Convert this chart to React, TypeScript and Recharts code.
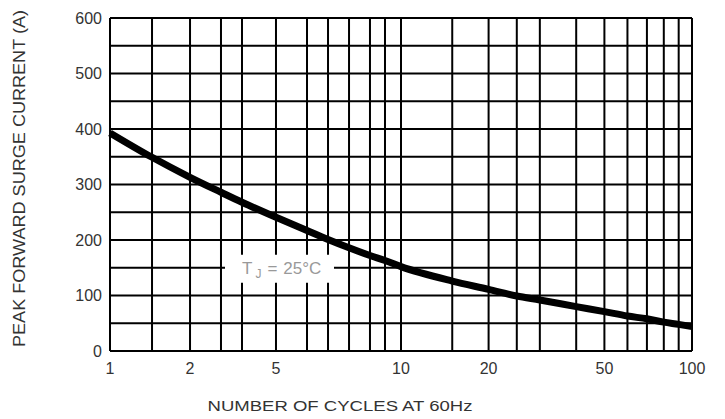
import React from "react";
import {
  LineChart,
  Line,
  XAxis,
  YAxis,
  CartesianGrid,
  ReferenceDot,
  Label,
} from "recharts";

// grid lines along the cycles axis, labels only on the decades/halves
const cycleTicks = [1, 1.5, 2, 3, 4, 5, 6, 7, 8, 9, 9.5, 10, 15, 20, 25, 30, 40, 50, 60, 70, 80, 90, 100];
const cycleLabels = [1, 2, 5, 10, 20, 50, 100];
const currentTicks = [0, 50, 100, 150, 200, 250, 300, 350, 400, 450, 500, 550, 600];

// curve (TJ = 25C)
const cycles = [1, 1.5, 2, 3, 4, 5, 6, 7, 8, 9, 9.5, 10, 15, 20, 25, 30, 40, 50, 60, 70, 80, 90, 100];
const surge = [393, 349, 313, 286, 268, 241, 217, 201, 186, 172, 163, 152, 126, 111, 99, 92, 80, 71, 63, 58, 52, 48, 44];

const data = cycles.map((c, i) => ({ cycles: c, surge: surge[i] }));

// the printed log paper is not a clean log scale in the first decade,
// so map it piecewise (log-interpolated between printed grid lines)
const knotValues = [1, 1.5, 2, 3, 4, 5, 6, 7, 8, 9, 9.5, 10, 100];
const knotPos = [0, 0.0722, 0.1375, 0.1907, 0.2268, 0.2852, 0.3385, 0.3746, 0.4107, 0.4467, 0.4725, 0.5, 1];

function makeCycleScale(dom: number[] = [1, 100], rng: number[] = [0, 1]): any {
  const logK = knotValues.map((v) => Math.log10(v));
  const f: any = (v: number) => {
    const lv = Math.log10(v);
    let i = 0;
    while (i < logK.length - 2 && lv > logK[i + 1]) i++;
    const t =
      knotPos[i] + ((lv - logK[i]) / (logK[i + 1] - logK[i])) * (knotPos[i + 1] - knotPos[i]);
    return rng[0] + t * (rng[1] - rng[0]);
  };
  f.domain = (d?: number[]) => {
    if (d) {
      dom = d;
      return f;
    }
    return dom;
  };
  f.range = (r?: number[]) => {
    if (r) {
      rng = r;
      return f;
    }
    return rng;
  };
  f.copy = () => makeCycleScale(dom.slice(), rng.slice());
  f.ticks = () => cycleTicks;
  return f;
}

const font = "'Liberation Sans', Arial, sans-serif";

const TjLabel = (props: any) => {
  const { cx, cy } = props;
  return (
    <g>
      <rect x={cx - 51} y={cy - 13} width={109} height={28} fill="#fff" />
      <text x={cx - 34} y={cy + 6} fontSize={17} fill="#999" fontFamily={font}>
        T
        <tspan fontSize={12} dy={4} dx={3}>
          J
        </tspan>
        <tspan dy={-4} dx={6}>
          =
        </tspan>
        <tspan dx={6}>25°C</tspan>
      </text>
    </g>
  );
};

export default function App() {
  return (
    <div style={{ position: "absolute", left: 0, top: 0 }}>
      <LineChart
        width={725}
        height={419}
        data={data}
        margin={{ top: 18, right: 33, left: 50, bottom: 38 }}
      >
        <CartesianGrid stroke="#000" strokeWidth={2} />
        <XAxis
          dataKey="cycles"
          type="number"
          scale={makeCycleScale()}
          domain={[1, 100]}
          ticks={cycleTicks}
          interval={0}
          height={30}
          tickLine={false}
          tickMargin={6}
          axisLine={{ stroke: "#000", strokeWidth: 2 }}
          tick={{ fill: "#333", fontSize: 16, fontFamily: font }}
          tickFormatter={(v: number) => (cycleLabels.includes(v) ? String(v) : "")}
        >
          <Label
            content={(p: any) => {
              const vb = p.viewBox;
              return (
                <text
                  x={vb.x + vb.width / 2 - 61}
                  y={vb.y + 60}
                  textAnchor="middle"
                  fontSize={14}
                  fill="#333"
                  fontFamily={font}
                  textLength={265}
                  lengthAdjust="spacingAndGlyphs"
                >
                  NUMBER OF CYCLES AT 60Hz
                </text>
              );
            }}
          />
        </XAxis>
        <YAxis
          type="number"
          domain={[0, 600]}
          ticks={currentTicks}
          interval={0}
          width={60}
          tickLine={false}
          axisLine={{ stroke: "#000", strokeWidth: 2 }}
          tick={{ fill: "#333", fontSize: 16, fontFamily: font }}
          tickFormatter={(v: number) => (v % 100 === 0 ? String(v) : "")}
        >
          <Label
            content={(p: any) => {
              const vb = p.viewBox;
              const x = 25;
              const y = vb.y + vb.height / 2 - 6;
              return (
                <text
                  x={x}
                  y={y}
                  transform={`rotate(-90, ${x}, ${y})`}
                  textAnchor="middle"
                  fontSize={16}
                  fill="#333"
                  fontFamily={font}
                  textLength={337}
                  lengthAdjust="spacingAndGlyphs"
                >
                  PEAK FORWARD SURGE CURRENT (A)
                </text>
              );
            }}
          />
        </YAxis>
        <ReferenceDot x={5} y={150} r={0} shape={<TjLabel />} />
        <Line
          type="monotone"
          dataKey="surge"
          stroke="#000"
          strokeWidth={7}
          dot={false}
          isAnimationActive={false}
        />
      </LineChart>
    </div>
  );
}
